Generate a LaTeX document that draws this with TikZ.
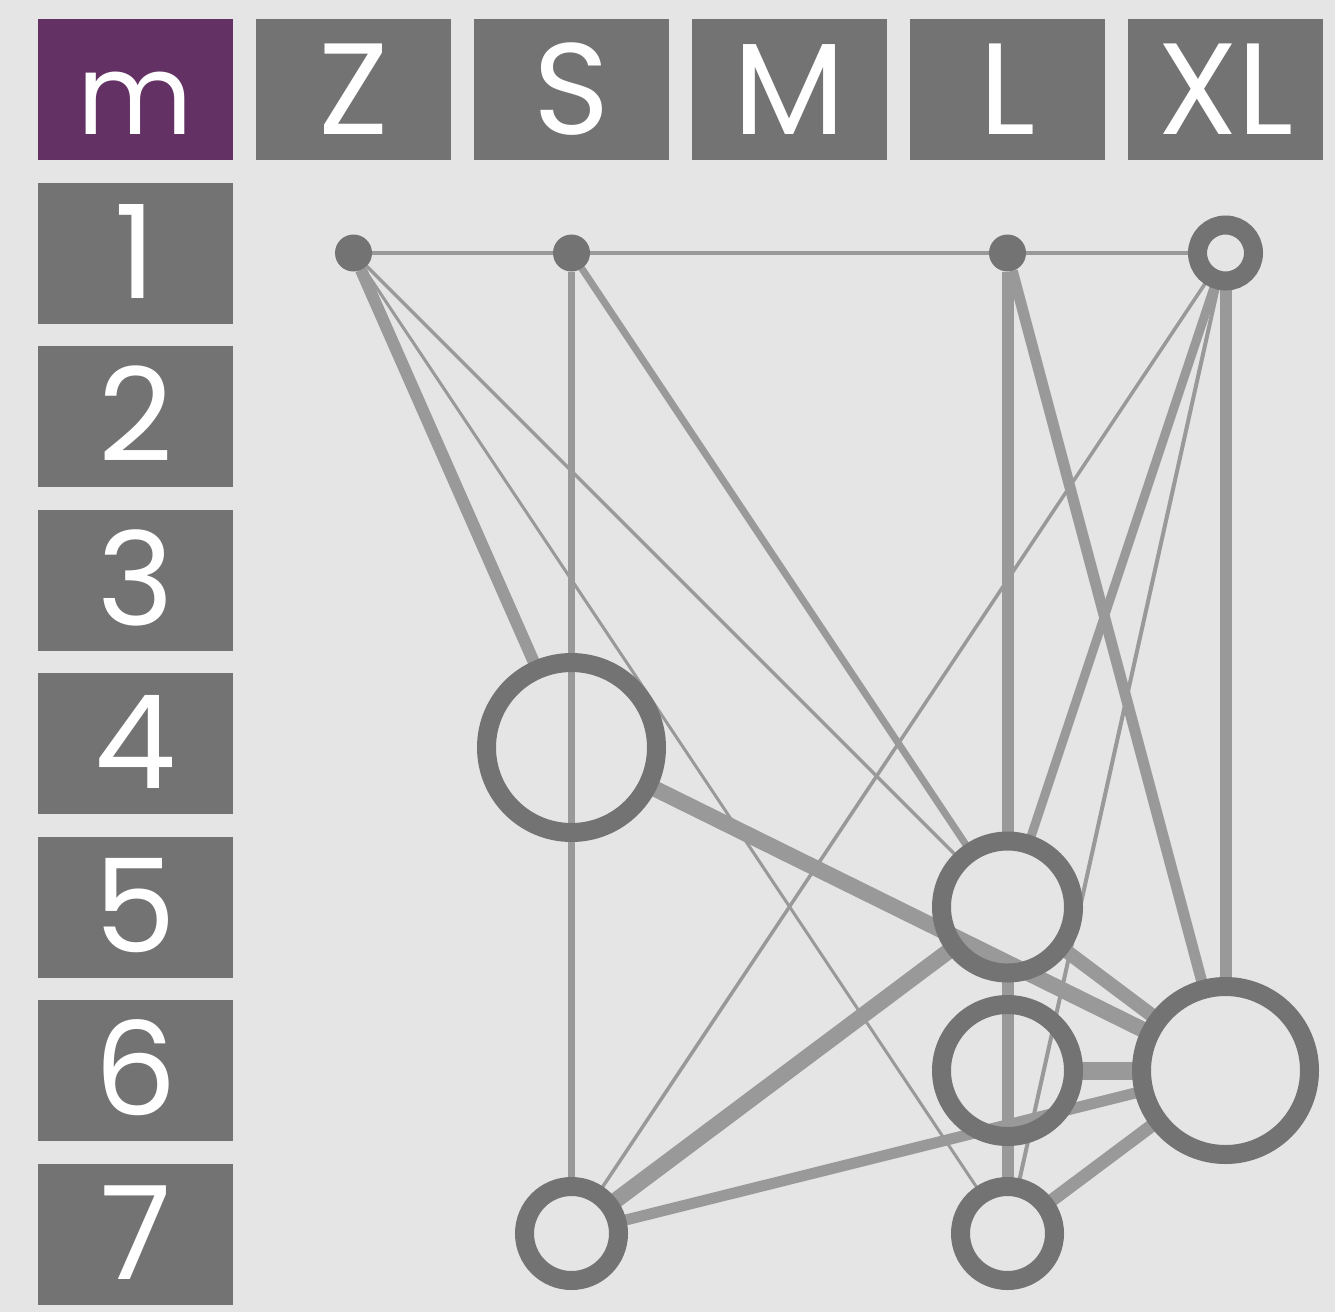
\documentclass[tikz,border=0pt]{standalone}
\usepackage{fontspec}
\setmainfont{Poppins}
\definecolor{bgc}{HTML}{E5E5E5}
\definecolor{boxc}{HTML}{737373}
\definecolor{mc}{HTML}{633163}
\definecolor{edgec}{HTML}{999999}
\pgfdeclarelayer{back}
\pgfdeclarelayer{edges}
\pgfsetlayers{back,edges,main}
\begin{document}
\begin{tikzpicture}[x=1pt,y=-1pt,
  hdr/.style={fill=boxc, minimum width=195pt, minimum height=141pt, inner sep=0pt, outer sep=0pt},
  hdrm/.style={hdr, fill=mc},
  lbl/.style={text=white, font=\fontsize{130}{130}\selectfont, anchor=base, inner sep=0pt},
  lblm/.style={lbl, font=\fontsize{112}{112}\selectfont},
  dot/.style={circle, fill=boxc, minimum size=37pt, inner sep=0pt, outer sep=0pt},
  ring/.style={circle, draw=boxc, line width=19pt, inner sep=0pt, outer sep=0pt},
  edge/.style={draw=edgec, line cap=butt}
]
\begin{pgfonlayer}{back}
  \fill[bgc] (0,0) rectangle (1335,1312);
\end{pgfonlayer}
\useasboundingbox (0,0) rectangle (1335,1312);

% header row
\node[hdrm] (hm) at (135.5,89.5) {};
\node[lblm] (tm) at (135.5,134.5) {m};
\foreach \t/\j in {Z/1,S/2,M/3,L/4,XL/5}{
  \node[hdr] (h\t) at ({135.5+218*\j},89.5) {};
  \node[lbl] (t\t) at ({135.5+218*\j},134.5) {\t};
}
% row labels
\foreach \i in {1,...,7}{
  \node[hdr] (r\i) at (135.5,{89.5+163.5*\i}) {};
  \node[lbl] (tr\i) at (135.5,{134.5+163.5*\i}) {\i};
}

% graph nodes
\node[dot] (Z1) at (353.5,253) {};
\node[dot] (S1) at (571.5,253) {};
\node[dot] (L1) at (1007.5,253) {};
\node[ring, minimum size=56pt] (XL1) at (1225.5,253) {};
\node[ring, minimum size=170pt] (S4) at (571.5,747.5) {};
\node[ring, minimum size=132pt] (L5) at (1007.5,907) {};
\node[ring, minimum size=132pt] (L6) at (1007.5,1070.5) {};
\node[ring, minimum size=168pt] (XL6) at (1225.5,1070.5) {};
\node[ring, minimum size=94pt] (S7) at (571.5,1233.5) {};
\node[ring, minimum size=94pt] (L7) at (1007.5,1233.5) {};

\begin{pgfonlayer}{edges}
  \draw[edge, line width=3.5pt] (Z1) -- (S1);
  \draw[edge, line width=3.5pt] (S1) -- (L1);
  \draw[edge, line width=3.5pt] (L1) -- (XL1);
  \draw[edge, line width=12pt] (Z1) -- (S4);
  \draw[edge, line width=3pt] (Z1) -- (L7);
  \draw[edge, line width=3.5pt] (Z1) -- (L5);
  \draw[edge, line width=7pt] (S1) -- (S7);
  \draw[edge, line width=7pt] (S1) -- (L5);
  \draw[edge, line width=12pt] (L1) -- (L5);
  \draw[edge, line width=12pt] (L5) -- (L7);
  \draw[edge, line width=11pt] (L1) -- (XL6);
  \draw[edge, line width=9pt] (XL1) -- (L5);
  \draw[edge, line width=4pt] (XL1) -- (L7);
  \draw[edge, line width=3.5pt] (XL1) -- (S7);
  \draw[edge, line width=12pt] (XL1) -- (XL6);
  \draw[edge, line width=16pt] (S4) -- (XL6);
  \draw[edge, line width=16pt] (S7) -- (L5);
  \draw[edge, line width=11pt] (S7) -- (XL6);
  \draw[edge, line width=18pt] (L6) -- (XL6);
  \draw[edge, line width=13pt] (L7) -- (XL6);
  \draw[edge, line width=14pt] (L5) -- (XL6);
\end{pgfonlayer}
\end{tikzpicture}
\end{document}
